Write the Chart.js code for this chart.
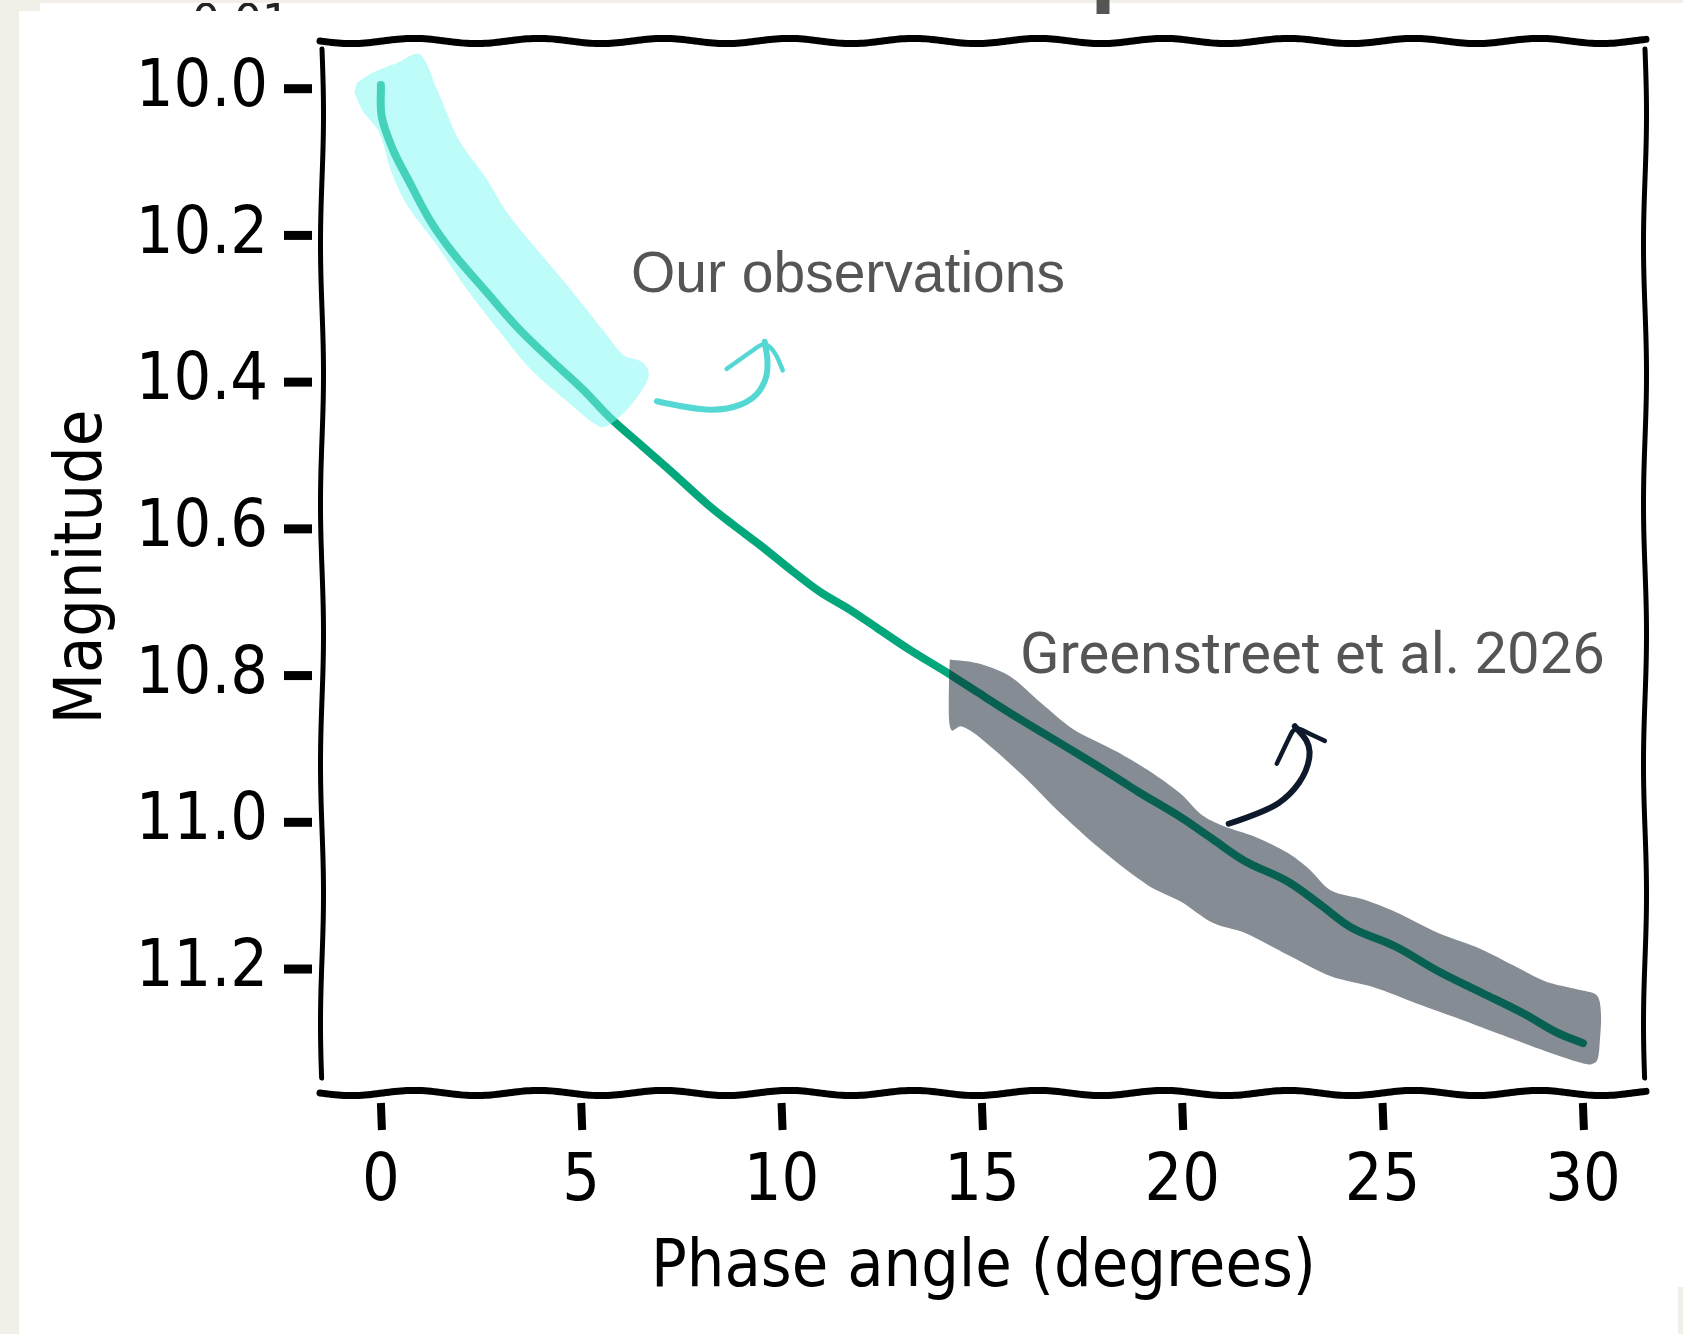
<!DOCTYPE html>
<html>
<head>
<meta charset="utf-8">
<title>Phase curve</title>
<script src="https://cdn.jsdelivr.net/npm/chart.js@4.4.1/dist/chart.umd.min.js"></script>
<style>
    html, body { margin: 0; padding: 0; background: #ffffff; overflow: hidden; }
    #chart { display: block; }
</style>
</head>
<body>
<canvas id="chart" width="1683" height="1334"></canvas>
<script>
// Phase curve (degrees, magnitude)
var phaseAngle = [0, 0.02, 0.3, 0.72, 1.22, 1.8, 2.65, 3.47, 4.29, 5.04, 5.71, 6.54, 7.21, 8.14, 8.78, 9.46,
    10.28, 10.96, 11.7, 12.38, 13.2, 14.13, 14.87, 15.94, 17.28, 18.35, 18.89, 19.96, 20.76, 21.57,
    22.64, 23.44, 24.24, 25.31, 26.39, 27.46, 28.53, 29.33, 30.0];
var magnitude = [9.995, 10.038, 10.083, 10.128, 10.179, 10.224, 10.278, 10.329, 10.372, 10.41, 10.448, 10.488,
    10.52, 10.566, 10.594, 10.622, 10.658, 10.686, 10.71, 10.735, 10.765, 10.796, 10.822, 10.859, 10.903,
    10.939, 10.958, 10.993, 11.023, 11.053, 11.081, 11.112, 11.144, 11.169, 11.203, 11.232, 11.261,
    11.286, 11.301];

// Highlight around our observations (outline, clockwise)
var obsBandX = [-0.6, -0.2, 0.4, 0.97, 1.4, 1.95, 2.65, 3.15, 3.97, 4.8, 5.6, 6.05, 6.5, 6.68, 6.63,
    6.29, 5.79, 5.47, 4.6, 3.75, 2.93, 2.1, 1.42, 0.68, 0.27, -0.04, -0.47, -0.66];
var obsBandY = [9.992, 9.978, 9.965, 9.953, 10.001, 10.07, 10.124, 10.169, 10.224, 10.278, 10.333, 10.363,
    10.372, 10.385, 10.4, 10.428, 10.455, 10.461, 10.424, 10.383, 10.329, 10.27, 10.215, 10.161, 10.115,
    10.06, 10.029, 10.005];

// Greenstreet et al. range (outline, clockwise)
var gsBandX = [14.2, 14.87, 15.67, 16.47, 17.28, 18.35, 19.15, 19.96, 20.49, 21.03, 21.83, 22.64, 23.17,
    23.71, 24.51, 25.31, 26.39, 27.46, 28.26, 29.07, 29.87, 30.35, 30.45, 30.42, 30.35,
    30.14, 29.07, 27.99, 26.92, 25.85, 24.78, 23.71, 22.64, 21.57, 20.76, 19.96, 19.15, 18.08, 17.01,
    15.94, 14.87, 14.47, 14.25, 14.18, 14.18];
var gsBandY = [10.778, 10.783, 10.8, 10.837, 10.873, 10.903, 10.929, 10.961, 10.99, 11.005, 11.02, 11.042,
    11.064, 11.093, 11.105, 11.122, 11.151, 11.173, 11.195, 11.217, 11.228, 11.236, 11.26, 11.3, 11.325,
    11.33, 11.312, 11.29, 11.268, 11.247, 11.225, 11.21, 11.181, 11.151, 11.137, 11.108, 11.086, 11.042,
    10.99, 10.932, 10.881, 10.869, 10.875, 10.86, 10.8];

// Axis ticks
var xTicks = [0, 5, 10, 15, 20, 25, 30];
var yTicks = [10.0, 10.2, 10.4, 10.6, 10.8, 11.0, 11.2];

// Annotation arrows, in data units
var obsArrowX = [6.89, 7.8, 8.63, 9.29, 9.6, 9.67, 9.58];
var obsArrowY = [10.426, 10.437, 10.438, 10.424, 10.4, 10.375, 10.345];
var obsHeadX = [8.63, 9.2, 9.58, 9.85, 10.03];
var obsHeadY = [10.382, 10.36, 10.345, 10.36, 10.384];
var gsArrowX = [21.16, 22.1, 22.7, 23.12, 23.22, 22.81];
var gsArrowY = [11.002, 10.985, 10.963, 10.93, 10.895, 10.869];
var gsHeadX = [22.36, 22.62, 22.81, 23.2, 23.56];
var gsHeadY = [10.92, 10.89, 10.869, 10.88, 10.889];

var obsLabel = { text: 'Our observations', x: 6.24, y: 10.277 };
var gsLabel = { text: 'Greenstreet et al. 2026', x: 15.95, y: 10.796 };

function toPoints(xs, ys) {
    return xs.map(function (x, i) { return { x: x, y: ys[i] }; });
}

// Smooth stroke through points given in data units
function strokeSmooth(chart, xs, ys) {
    var sx = chart.scales.x, sy = chart.scales.y, ctx = chart.ctx;
    var p = xs.map(function (x, i) {
        return { x: sx.getPixelForValue(x), y: sy.getPixelForValue(ys[i]) };
    });
    ctx.beginPath();
    ctx.moveTo(p[0].x, p[0].y);
    for (var i = 1; i < p.length - 1; i++) {
        var mx = (p[i].x + p[i + 1].x) / 2;
        var my = (p[i].y + p[i + 1].y) / 2;
        ctx.quadraticCurveTo(p[i].x, p[i].y, mx, my);
    }
    ctx.lineTo(p[p.length - 1].x, p[p.length - 1].y);
    ctx.stroke();
}

function wavyH(ctx, x1, x2, y, amp, wl) {
    ctx.beginPath();
    for (var x = x1; x <= x2; x += 3) {
        var yy = y + amp * Math.sin(2 * Math.PI * (x - x1) / wl);
        if (x === x1) ctx.moveTo(x, yy); else ctx.lineTo(x, yy);
    }
    ctx.stroke();
}

function wavyV(ctx, x, y1, y2, amp, wl) {
    ctx.beginPath();
    for (var y = y1; y <= y2; y += 3) {
        var xx = x + amp * Math.sin(2 * Math.PI * (y - y1) / wl);
        if (y === y1) ctx.moveTo(xx, y); else ctx.lineTo(xx, y);
    }
    ctx.stroke();
}

// Page background with the cropped edges of the screenshot
var paperPlugin = {
    id: 'paper',
    beforeDraw: function (chart) {
        var ctx = chart.ctx, w = chart.width, h = chart.height;
        ctx.save();
        ctx.fillStyle = '#ffffff';
        ctx.fillRect(0, 0, w, h);
        ctx.fillStyle = '#f2efe8';
        ctx.fillRect(0, 0, 19, h);
        ctx.fillRect(0, 0, w, 3);
        ctx.fillRect(0, 0, 40, 11);
        ctx.fillRect(w - 5, 1287, 5, h - 1287);
        ctx.restore();

        // bits of text cut off above the chart
        ctx.save();
        ctx.beginPath();
        ctx.rect(40, 3, 400, 8);
        ctx.clip();
        ctx.fillStyle = '#222222';
        ctx.font = '44px "DejaVu Sans"';
        ctx.textBaseline = 'alphabetic';
        ctx.fillText('0.01', 192, 36);
        ctx.restore();

        ctx.save();
        ctx.beginPath();
        ctx.rect(1000, 0, 200, 14);
        ctx.clip();
        ctx.fillStyle = '#555555';
        ctx.font = 'bold 94px "Liberation Sans"';
        ctx.fillText('p', 1090, -6);
        ctx.restore();
    }
};

// Hand drawn frame, tick marks and annotations
var sketchPlugin = {
    id: 'sketch',
    afterDatasetsDraw: function (chart) {
        var ctx = chart.ctx, a = chart.chartArea;
        var sx = chart.scales.x, sy = chart.scales.y;
        ctx.save();
        ctx.strokeStyle = '#000000';
        ctx.lineCap = 'round';
        ctx.lineWidth = 7;
        wavyH(ctx, a.left - 2, a.right + 2, a.top, 2.6, 125);
        wavyH(ctx, a.left - 2, a.right + 2, a.bottom, 2.6, 125);
        ctx.lineWidth = 5;
        wavyV(ctx, a.left, a.top + 8, a.bottom - 15, 1.5, 260);
        wavyV(ctx, a.right, a.top + 8, a.bottom - 15, 1.5, 260);

        // tick marks, detached from the spines
        ctx.lineCap = 'butt';
        ctx.lineWidth = 9;
        sy.ticks.forEach(function (t) {
            var py = sy.getPixelForValue(t.value);
            ctx.beginPath();
            ctx.moveTo(a.left - 38, py);
            ctx.lineTo(a.left - 10, py);
            ctx.stroke();
        });
        ctx.lineWidth = 8;
        sx.ticks.forEach(function (t) {
            var px = sx.getPixelForValue(t.value);
            ctx.beginPath();
            ctx.moveTo(px, a.bottom + 10);
            ctx.lineTo(px + 1, a.bottom + 37);
            ctx.stroke();
        });

        // arrows
        ctx.lineCap = 'round';
        ctx.lineJoin = 'round';
        ctx.strokeStyle = '#55d8d4';
        ctx.lineWidth = 6;
        strokeSmooth(chart, obsArrowX, obsArrowY);
        ctx.lineWidth = 4.5;
        strokeSmooth(chart, obsHeadX, obsHeadY);
        ctx.strokeStyle = '#0e1a2b';
        ctx.lineWidth = 6;
        strokeSmooth(chart, gsArrowX, gsArrowY);
        ctx.lineWidth = 4.5;
        strokeSmooth(chart, gsHeadX, gsHeadY);

        // labels
        ctx.fillStyle = '#555555';
        ctx.textAlign = 'left';
        ctx.textBaseline = 'alphabetic';
        ctx.font = '57px "Liberation Sans"';
        ctx.fillText(obsLabel.text, sx.getPixelForValue(obsLabel.x), sy.getPixelForValue(obsLabel.y));
        ctx.font = '58px Roboto';
        ctx.fillText(gsLabel.text, sx.getPixelForValue(gsLabel.x), sy.getPixelForValue(gsLabel.y));
        ctx.restore();
    }
};

var comic = '"DejaVu Sans Condensed", "DejaVu Sans"';

// keep the plot box where the reference has it
function noPadding(scale) {
    scale.paddingTop = 0;
    scale.paddingBottom = 0;
    scale.paddingLeft = 0;
    scale.paddingRight = 0;
}

var chart = new Chart(document.getElementById('chart'), {
    type: 'line',
    data: {
        datasets: [
            {
                // Greenstreet et al. band
                data: toPoints(gsBandX, gsBandY),
                backgroundColor: 'rgba(13, 25, 41, 0.5)',
                borderColor: 'rgba(0,0,0,0)',
                borderWidth: 0,
                pointRadius: 0,
                tension: 0.3,
                fill: 'shape'
            },
            {
                // our observations band
                data: toPoints(obsBandX, obsBandY),
                backgroundColor: 'rgba(130, 249, 241, 0.53)',
                borderColor: 'rgba(0,0,0,0)',
                borderWidth: 0,
                pointRadius: 0,
                tension: 0.3,
                fill: 'shape'
            },
            {
                data: toPoints(phaseAngle, magnitude),
                borderColor: '#02a77b',
                borderWidth: 8,
                borderCapStyle: 'round',
                pointRadius: 0,
                tension: 0.35,
                fill: false
            }
        ]
    },
    options: {
        responsive: false,
        devicePixelRatio: 1,
        animation: false,
        layout: { padding: { left: 0, top: 41, right: 38, bottom: 0 } },
        plugins: {
            legend: { display: false },
            tooltip: { enabled: false }
        },
        scales: {
            x: {
                type: 'linear',
                min: -1.47,
                max: 31.55,
                afterBuildTicks: function (scale) {
                    scale.ticks = xTicks.map(function (v) { return { value: v }; });
                },
                afterFit: function (scale) {
                    scale.height = 241;
                    noPadding(scale);
                },
                border: { display: false },
                grid: { display: false, drawOnChartArea: false, drawTicks: false },
                ticks: {
                    autoSkip: false,
                    maxRotation: 0,
                    padding: 50,
                    color: '#000000',
                    font: { family: comic, size: 66 },
                    callback: function (v) { return v; }
                },
                title: {
                    display: true,
                    text: 'Phase angle (degrees)',
                    color: '#000000',
                    font: { family: comic, size: 66 },
                    padding: { top: 0, bottom: 26 }
                }
            },
            y: {
                type: 'linear',
                reverse: true,
                min: 9.935,
                max: 11.369,
                afterBuildTicks: function (scale) {
                    scale.ticks = yTicks.map(function (v) { return { value: v }; });
                },
                afterFit: function (scale) {
                    scale.width = 322;
                    noPadding(scale);
                },
                border: { display: false },
                grid: { display: false, drawOnChartArea: false, drawTicks: false },
                ticks: {
                    padding: 54,
                    color: '#000000',
                    font: { family: comic, size: 66 },
                    callback: function (v) { return Number(v).toFixed(1); }
                },
                title: {
                    display: true,
                    text: 'Magnitude',
                    color: '#000000',
                    font: { family: comic, size: 66 },
                    padding: { top: 44, bottom: 0 }
                }
            }
        }
    },
    plugins: [paperPlugin, sketchPlugin]
});
</script>
</body>
</html>
